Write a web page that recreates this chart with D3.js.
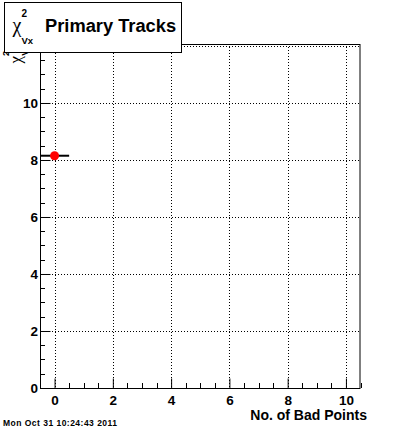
<!DOCTYPE html>
<html><head><meta charset="utf-8">
<script src="https://cdn.jsdelivr.net/npm/d3@7"></script>
<style>
html,body{margin:0;padding:0;background:#fff;}
svg{display:block;}
text{font-family:"Liberation Sans",Arial,Helvetica,sans-serif;font-weight:bold;fill:#000;}
</style></head>
<body><svg id="c" width="400" height="433"></svg>
<script>
// data
const xValues = [0];
const yValues = [8.15];
const xErrors = [0.5];
const xTickValues = [0, 2, 4, 6, 8, 10];
const yTickValues = [0, 2, 4, 6, 8, 10];
const xGridValues = [0, 2, 4, 6, 8, 10];
const yGridValues = [2, 4, 6, 8, 10, 12];
const xDomain = [-0.5, 10.5];
const yDomain = [0, 12.07];
const titleText = "Primary Tracks";
const xTitle = "No. of Bad Points";
const dateText = "Mon Oct 31 10:24:43 2011";

const svg = d3.select("#c");
const L = 40, R = 360.5, T = 44, B = 388;
const x = d3.scaleLinear().domain(xDomain).range([L, R]);
const y = d3.scaleLinear().domain(yDomain).range([B, T]);

// grid
const g = svg.append("g");
g.selectAll("line.gx").data(xGridValues).enter().append("line")
  .attr("x1", d => Math.round(x(d)) + 0.5).attr("x2", d => Math.round(x(d)) + 0.5)
  .attr("y1", T).attr("y2", B)
  .attr("stroke", "#000").attr("stroke-width", 1).attr("stroke-dasharray", "1,2");
g.selectAll("line.gy").data(yGridValues).enter().append("line")
  .attr("y1", d => Math.round(y(d)) + 0.5).attr("y2", d => Math.round(y(d)) + 0.5)
  .attr("x1", L).attr("x2", R)
  .attr("stroke", "#000").attr("stroke-width", 1).attr("stroke-dasharray", "1,2");

// frame
svg.append("rect").attr("x", L + 0.5).attr("y", T + 0.5)
  .attr("width", R - L - 1).attr("height", B - T)
  .attr("fill", "none").attr("stroke", "#000").attr("stroke-width", 1);

// x axis
const xMinor = d3.range(-0.5, 10.51, 0.5).filter(v => !xTickValues.includes(v));
const xAxis = d3.axisBottom(x).tickValues(xTickValues).tickSize(-10).tickPadding(7)
  .tickFormat(d3.format("d"));
const xa = svg.append("g").attr("transform", `translate(0,${B + 0.5})`).call(xAxis);
xa.select(".domain").remove();
xa.selectAll("text").style("font-size", "13.5px").style("font-family", '"Liberation Sans",Arial,sans-serif').style("font-weight", "bold");
xa.selectAll(".tick line").attr("stroke", "#000");
svg.append("g").selectAll("line").data(xMinor).enter().append("line")
  .attr("x1", d => Math.round(x(d)) + 0.5).attr("x2", d => Math.round(x(d)) + 0.5)
  .attr("y1", B).attr("y2", B - 5).attr("stroke", "#000");

// y axis
const yMinor = d3.range(0, 12.01, 0.5).filter(v => !yTickValues.includes(v));
const yAxis = d3.axisLeft(y).tickValues(yTickValues).tickSize(-10).tickPadding(2.5)
  .tickFormat(d3.format("d"));
const ya = svg.append("g").attr("transform", `translate(${L + 0.5},0)`).call(yAxis);
ya.select(".domain").remove();
ya.selectAll("text").style("font-size", "13.5px").style("font-family", '"Liberation Sans",Arial,sans-serif').style("font-weight", "bold");
ya.selectAll(".tick line").attr("stroke", "#000");
svg.append("g").selectAll("line").data(yMinor).enter().append("line")
  .attr("y1", d => Math.round(y(d)) + 0.5).attr("y2", d => Math.round(y(d)) + 0.5)
  .attr("x1", L).attr("x2", L + 5).attr("stroke", "#000");

// data: error bars and markers
svg.append("g").selectAll("line").data(xValues).enter().append("line")
  .attr("x1", (d, i) => x(d - xErrors[i])).attr("x2", (d, i) => x(d + xErrors[i]))
  .attr("y1", (d, i) => y(yValues[i])).attr("y2", (d, i) => y(yValues[i]))
  .attr("stroke", "#000").attr("stroke-width", 2);
svg.append("g").selectAll("circle").data(xValues).enter().append("circle")
  .attr("cx", d => x(d)).attr("cy", (d, i) => y(yValues[i])).attr("r", 4.5)
  .attr("fill", "#ff0000");

// y axis title (rotated)
const yt = svg.append("text").attr("transform", `translate(21,${T}) rotate(-90)`)
  .attr("text-anchor", "end");
yt.append("tspan").text("χ").style("font-family", '"Liberation Serif",serif').style("font-weight", "normal").style("font-size", "17px");
yt.append("tspan").text("2").attr("dy", -12).attr("dx", 0).style("font-size", "9.5px");
yt.append("tspan").text("Vx").attr("dy", 19).attr("dx", -5).style("font-size", "9.5px");

// title box
svg.append("rect").attr("x", 4.5).attr("y", 2.5).attr("width", 177).attr("height", 50)
  .attr("fill", "#fff").attr("stroke", "#000").attr("stroke-width", 1);
const tt = svg.append("text").attr("x", 12.5).attr("y", 32);
tt.append("tspan").text("χ").style("font-family", '"Liberation Serif",serif').style("font-weight", "normal").style("font-size", "20px");
tt.append("tspan").text("2").attr("dy", -15.5).attr("dx", 0).style("font-size", "10px");
tt.append("tspan").text("Vx").attr("dy", 27).attr("dx", -5.5).style("font-size", "9.5px");
svg.append("text").attr("x", 45).attr("y", 32).text(titleText).style("font-size", "18.3px");

// x axis title
svg.append("text").attr("x", 367).attr("y", 420).attr("text-anchor", "end")
  .text(xTitle).style("font-size", "14px");

// date
svg.append("text").attr("x", 3).attr("y", 426).text(dateText).style("font-size", "8.5px")
  .attr("textLength", 114).attr("lengthAdjust", "spacing");
</script></body></html>
